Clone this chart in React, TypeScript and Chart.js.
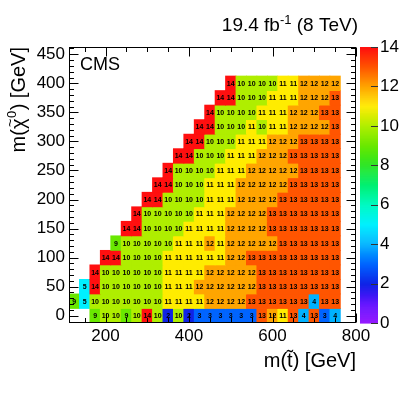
import React, { useEffect, useRef } from 'react';
import { Chart, registerables } from 'chart.js';

Chart.register(...registerables);

// ---- data -------------------------------------------------------------
const M_LSP = [0, 25, 50, 75, 100, 125, 150, 175, 200, 225, 250, 275, 300, 325, 350, 375, 400];
const ROW_START = [175, 125, 150, 175, 200, 225, 250, 275, 300, 325, 350, 375, 400, 425, 450, 475, 500];
const BIN = 25;

const R000 = [9, 10, 10, 9, 10, 14, 10, 2, 10, 2, 3, 3, 3, 3, 3, 3, 13, 12, 11, 13, 4, 13, 3, 4];
const R025 = [9, 5, 10, 10, 10, 10, 10, 10, 10, 11, 11, 11, 11, 12, 12, 12, 12, 13, 13, 13, 13, 13, 13, 4, 13, 13];
const R050 = [5, 14, 10, 10, 10, 10, 10, 10, 11, 11, 11, 12, 12, 12, 12, 12, 12, 13, 13, 13, 13, 13, 13, 13, 13];
const R075 = [14, 10, 10, 10, 10, 10, 10, 11, 11, 11, 11, 12, 12, 12, 12, 12, 13, 13, 13, 13, 13, 13, 13, 13];
const R100 = [14, 14, 10, 10, 10, 10, 11, 11, 11, 11, 11, 11, 12, 12, 13, 13, 13, 13, 13, 13, 13, 13, 13];
const R125 = [9, 10, 10, 10, 10, 10, 11, 11, 11, 12, 11, 12, 12, 12, 12, 12, 13, 13, 13, 13, 13, 13];
const R150 = [14, 14, 10, 10, 10, 10, 11, 11, 11, 11, 12, 12, 12, 12, 13, 13, 13, 13, 13, 13, 13];
const R175 = [14, 10, 10, 10, 10, 10, 11, 11, 11, 12, 12, 12, 12, 13, 13, 13, 13, 13, 13, 13];
const R200 = [14, 14, 10, 10, 10, 10, 11, 11, 11, 12, 12, 12, 12, 13, 13, 13, 13, 13, 13];
const R225 = [14, 14, 10, 10, 10, 11, 11, 11, 12, 12, 12, 12, 12, 13, 13, 13, 13, 13];
const R250 = [14, 10, 10, 10, 10, 11, 11, 11, 12, 12, 12, 12, 12, 13, 13, 13, 13];
const R275 = [14, 14, 10, 10, 10, 11, 11, 11, 12, 12, 12, 13, 13, 13, 13, 13];
const R300 = [14, 14, 10, 10, 10, 11, 11, 11, 12, 12, 12, 13, 13, 13, 13];
const R325 = [14, 14, 10, 10, 10, 11, 10, 11, 11, 12, 12, 12, 12, 13];
const R350 = [14, 10, 10, 10, 10, 11, 11, 11, 12, 12, 12, 13, 13];
const R375 = [14, 14, 10, 10, 10, 11, 11, 11, 12, 12, 12, 13];
const R400 = [14, 10, 10, 10, 10, 11, 11, 12, 12, 12, 12];

const ROWS = [R000, R025, R050, R075, R100, R125, R150, R175, R200, R225, R250, R275, R300, R325, R350, R375, R400];

const X_LABELS = [200, 400, 600, 800];
const Y_LABELS = [0, 50, 100, 150, 200, 250, 300, 350, 400, 450];
const Z_LABELS = [0, 2, 4, 6, 8, 10, 12, 14];

// ---- palette (ROOT rainbow-like) ---------------------------------------
const STOPS: number[][] = [
  [0, 150, 25, 255],
  [1, 95, 15, 255],
  [2, 15, 35, 230],
  [3, 0, 100, 255],
  [4, 0, 178, 255],
  [5, 0, 240, 255],
  [6, 0, 250, 195],
  [7, 0, 240, 115],
  [8, 40, 230, 35],
  [9, 105, 232, 0],
  [10, 175, 238, 0],
  [11, 255, 236, 0],
  [12, 255, 165, 0],
  [13, 255, 85, 0],
  [14, 255, 15, 15],
];
function colorFor(v: number): string {
  const z = Math.max(0, Math.min(14, v));
  const i = Math.min(13, Math.floor(z));
  const a = STOPS[i], b = STOPS[i + 1];
  const t = z - a[0];
  const c = [1, 2, 3].map((k) => Math.round(a[k] + (b[k] - a[k]) * t));
  return `rgb(${c[0]},${c[1]},${c[2]})`;
}

const FONT = "'Liberation Sans', Arial, Helvetica, sans-serif";

type Cell = { x: number; y: [number, number]; v: number };
function buildCells(): Cell[] {
  const out: Cell[] = [];
  ROWS.forEach((row, i) => {
    row.forEach((v, j) => {
      const x = ROW_START[i] + BIN * j;
      out.push({ x, y: [M_LSP[i] - BIN / 2, M_LSP[i] + BIN / 2], v });
    });
  });
  return out;
}

const cellTextPlugin = {
  id: 'cellText',
  afterDatasetsDraw(chart: any) {
    const { ctx } = chart;
    const meta = chart.getDatasetMeta(0);
    const data = chart.data.datasets[0].data as Cell[];
    ctx.save();
    ctx.font = `bold 7px ${FONT}`;
    ctx.fillStyle = '#000';
    ctx.textAlign = 'center';
    ctx.textBaseline = 'middle';
    meta.data.forEach((el: any, i: number) => {
      const cy = (el.y + el.base) / 2;
      ctx.fillText(String(data[i].v), el.x, cy + 0.5);
    });
    ctx.restore();
  },
};

function drawYTitle(ctx: CanvasRenderingContext2D, topY: number) {
  const big = `20px ${FONT}`;
  const sup = `13px ${FONT}`;
  const tfont = `15px ${FONT}`;
  ctx.save();
  ctx.translate(24.5, topY);
  ctx.rotate(-Math.PI / 2);
  ctx.fillStyle = '#000';
  ctx.textBaseline = 'alphabetic';
  ctx.textAlign = 'left';
  const p1 = 'm(', chi = '\u03c7', p3 = ') [GeV]', zero = '0';
  ctx.font = big;
  const w1 = ctx.measureText(p1).width;
  const wc = ctx.measureText(chi).width;
  const w3 = ctx.measureText(p3).width;
  ctx.font = sup;
  const wz = ctx.measureText(zero).width;
  const total = w1 + wc + wz + 1 + w3;
  let x = -total;
  ctx.font = big;
  ctx.fillText(p1, x, 0);
  x += w1;
  ctx.fillText(chi, x, 0);
  // tilde over chi
  ctx.font = tfont;
  ctx.textAlign = 'center';
  ctx.fillText('~', x + wc / 2 + 1, -10);
  ctx.textAlign = 'left';
  x += wc;
  ctx.font = sup;
  ctx.fillText(zero, x + 0.5, -9);
  x += wz + 1;
  ctx.font = big;
  ctx.fillText(p3, x, 0);
  ctx.restore();
}

const framePlugin = {
  id: 'frameDeco',
  afterDraw(chart: any) {
    const { ctx, chartArea: a, scales } = chart;
    const xs = scales.x, ys = scales.y, zs = scales.z;
    ctx.save();
    // colour bar
    const bx = a.right + 4, bw = 18;
    const steps = 280;
    for (let i = 0; i < steps; i++) {
      const v0 = (i * 14) / steps, v1 = ((i + 1) * 14) / steps;
      const p0 = zs.getPixelForValue(v0), p1 = zs.getPixelForValue(v1);
      ctx.fillStyle = colorFor((v0 + v1) / 2);
      ctx.fillRect(bx, p1, bw, p0 - p1 + 0.6);
    }
    ctx.strokeStyle = '#333';
    ctx.lineWidth = 1;
    Z_LABELS.forEach((v) => {
      const p = Math.round(zs.getPixelForValue(v)) + 0.5;
      ctx.beginPath();
      ctx.moveTo(bx + bw, p);
      ctx.lineTo(bx + bw - 7, p);
      ctx.stroke();
    });
    // frame
    ctx.strokeStyle = '#000';
    ctx.lineWidth = 1;
    const L = Math.round(a.left) + 0.5, R = Math.round(a.right) - 0.5;
    const T = Math.round(a.top) + 0.5, B = Math.round(a.bottom) - 0.5;
    ctx.strokeRect(L, T, R - L, B - T);
    ctx.beginPath();
    for (let v = 150; v <= 800; v += 50) {
      const p = Math.round(xs.getPixelForValue(v)) + 0.5;
      const len = v % 200 === 0 ? 9 : 4.5;
      ctx.moveTo(p, B); ctx.lineTo(p, B - len);
      ctx.moveTo(p, T); ctx.lineTo(p, T + len);
    }
    for (let v = -10; v <= 460; v += 10) {
      const p = Math.round(ys.getPixelForValue(v)) + 0.5;
      if (p < T || p > B) continue;
      const len = v % 50 === 0 ? 9 : 4.5;
      ctx.moveTo(L, p); ctx.lineTo(L + len, p);
      ctx.moveTo(R, p); ctx.lineTo(R - len, p);
    }
    ctx.stroke();
    // y title
    drawYTitle(ctx, a.top);
    // CMS label
    ctx.fillStyle = '#000';
    ctx.textAlign = 'left';
    ctx.textBaseline = 'alphabetic';
    ctx.font = `18px ${FONT}`;
    ctx.fillText('CMS', a.left + 11, a.top + 23);
    // lumi label (right aligned to frame)
    const big = `19px ${FONT}`, small = `13px ${FONT}`;
    const t1 = '19.4 fb', t2 = '-1', t3 = ' (8 TeV)';
    ctx.font = big; const w1 = ctx.measureText(t1).width; const w3 = ctx.measureText(t3).width;
    ctx.font = small; const w2 = ctx.measureText(t2).width;
    const endX = a.right + 2;
    let x0 = endX - (w1 + w2 + w3);
    const base = 30.5;
    ctx.font = big; ctx.fillText(t1, x0, base); x0 += w1;
    ctx.font = small; ctx.fillText(t2, x0, base - 7); x0 += w2;
    ctx.font = big; ctx.fillText(t3, x0, base);
    ctx.restore();
  },
};

export default function App() {
  const ref = useRef<HTMLCanvasElement | null>(null);
  useEffect(() => {
    if (!ref.current) return;
    const cells = buildCells();
    const tickFont = { family: FONT, size: 17 };
    const chart = new Chart(ref.current, {
      type: 'bar',
      data: {
        datasets: [
          {
            data: cells as any,
            backgroundColor: (c: any) => colorFor(c.raw ? c.raw.v : 0),
            borderWidth: 0,
            barPercentage: 1,
            categoryPercentage: 1,
            inflateAmount: 0.4,
            grouped: false,
          } as any,
        ],
      },
      options: {
        responsive: false,
        animation: false,
        events: [],
        layout: { padding: { top: 47, left: 0, right: 0, bottom: 0 } },
        plugins: { legend: { display: false }, tooltip: { enabled: false } },
        scales: {
          x: {
            type: 'linear',
            min: 112.5,
            max: 800,
            offset: false,
            afterBuildTicks: (s: any) => {
              s.ticks = X_LABELS.map((v) => ({ value: v }));
            },
            ticks: { autoSkip: false, maxRotation: 0, padding: 3, color: '#000', font: tickFont },
            grid: { display: false, drawTicks: false },
            border: { display: false },
            title: {
              display: true,
              text: 'm(t\u0303) [GeV]',
              align: 'end',
              color: '#000',
              font: { family: FONT, size: 20 },
              padding: { top: 0, bottom: 21.5 },
            },
            afterFit: (s: any) => {
              s.height = 72;
            },
          },
          y: {
            type: 'linear',
            min: -12.5,
            max: 462.5,
            afterBuildTicks: (s: any) => {
              s.ticks = Y_LABELS.map((v) => ({ value: v }));
            },
            ticks: { autoSkip: false, padding: 4, color: '#000', font: tickFont },
            grid: { display: false, drawTicks: false },
            border: { display: false },
            title: { display: false },
            afterFit: (s: any) => {
              s.width = 69;
            },
          },
          z: {
            axis: 'y',
            type: 'linear',
            position: 'right',
            min: 0,
            max: 14,
            afterBuildTicks: (s: any) => {
              s.ticks = Z_LABELS.map((v) => ({ value: v }));
            },
            ticks: { autoSkip: false, padding: 24, color: '#000', font: tickFont },
            grid: { display: false, drawTicks: false },
            border: { display: false },
            afterFit: (s: any) => {
              s.width = 51;
            },
          },
        } as any,
      },
      plugins: [cellTextPlugin, framePlugin],
    } as any);
    return () => chart.destroy();
  }, []);
  return (
    <div style={{ position: 'absolute', left: 0, top: 0, width: 407, height: 395, background: '#fff' }}>
      <canvas ref={ref} width={407} height={395} />
    </div>
  );
}
